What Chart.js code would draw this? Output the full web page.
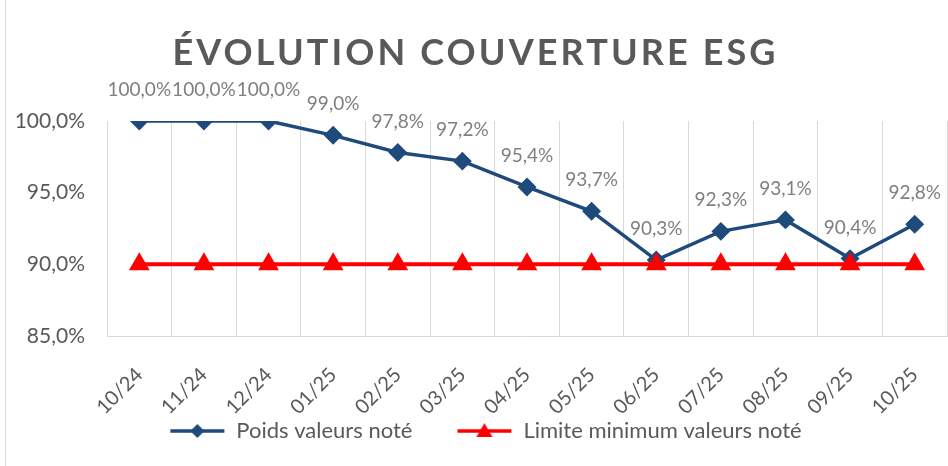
<!DOCTYPE html>
<html>
<head>
<meta charset="utf-8">
<script src="https://cdn.jsdelivr.net/npm/chart.js@4/dist/chart.umd.min.js"></script>
<style>
  html, body { margin: 0; padding: 0; background: #fff; }
  #wrap { position: relative; width: 948px; height: 466px; overflow: hidden; }
  #edge { position: absolute; left: 5px; top: 0; bottom: 0; border-left: 1px solid #d9d9d9; }
</style>
</head>
<body>
<div id="wrap">
  <canvas id="chart" width="959" height="466"></canvas>
  <div id="edge"></div>
</div>
<script>
// Data
const months = ['10/24', '11/24', '12/24', '01/25', '02/25', '03/25', '04/25', '05/25', '06/25', '07/25', '08/25', '09/25', '10/25'];
const poidsNote = [100.0, 100.0, 100.0, 99.0, 97.8, 97.2, 95.4, 93.7, 90.3, 92.3, 93.1, 90.4, 92.8];
const limiteMin = [90, 90, 90, 90, 90, 90, 90, 90, 90, 90, 90, 90, 90];
const titleText = 'ÉVOLUTION COUVERTURE ESG';

const BLUE = '#1f4a7c';
const RED = '#ff0000';
const FONT = 'Lato';
const ICON_W = 90; // legend icon box, line sits in the right 56px
const PAD_LEFT = -22; // pulls the centred legend left; y axis width makes up for it

function fmtPct(v) {
  return v.toFixed(1).replace('.', ',') + '%';
}

// legend marker: line with the point style on top
function legendIcon(color, style) {
  const c = document.createElement('canvas');
  c.width = ICON_W; c.height = 20;
  const ctx = c.getContext('2d');
  const x0 = ICON_W - 56, mid = ICON_W - 28;
  ctx.strokeStyle = color;
  ctx.lineWidth = 3.5;
  ctx.beginPath(); ctx.moveTo(x0 + 1, 10); ctx.lineTo(ICON_W - 1, 10); ctx.stroke();
  ctx.fillStyle = color;
  ctx.beginPath();
  if (style === 'diamond') {
    ctx.moveTo(mid, 3); ctx.lineTo(mid + 7, 10); ctx.lineTo(mid, 17); ctx.lineTo(mid - 7, 10);
  } else {
    ctx.moveTo(mid, 2); ctx.lineTo(mid + 8, 16); ctx.lineTo(mid - 8, 16);
  }
  ctx.closePath(); ctx.fill();
  return c;
}

// title with letter spacing, fitted to the reference width
const titlePlugin = {
  id: 'spacedTitle',
  afterDraw(chart) {
    const ctx = chart.ctx;
    ctx.save();
    ctx.font = 'bold 36px ' + FONT;
    ctx.fillStyle = '#595959';
    ctx.textBaseline = 'alphabetic';
    ctx.textAlign = 'left';
    const w = ctx.measureText(titleText).width;
    const spacing = Math.max(0, (603 - w) / (titleText.length - 1));
    ctx.letterSpacing = spacing + 'px';
    const total = ctx.measureText(titleText).width - spacing;
    ctx.fillText(titleText, 474 - total / 2, 65);
    ctx.restore();
  }
};

// value labels above the blue series
const labelPlugin = {
  id: 'valueLabels',
  afterDatasetsDraw(chart) {
    const ctx = chart.ctx;
    const meta = chart.getDatasetMeta(0);
    ctx.save();
    ctx.font = '19px ' + FONT;
    ctx.fillStyle = '#7f7f7f';
    ctx.textAlign = 'center';
    ctx.textBaseline = 'middle';
    meta.data.forEach((pt, i) => {
      ctx.fillText(fmtPct(poidsNote[i]), pt.x, pt.y - 31);
    });
    ctx.restore();
  }
};

// the x axis box is kept short; let its rotated labels run below it
const labelRoom = {
  id: 'labelRoom',
  afterLayout(chart) {
    chart.scales.x.bottom = chart.height;
  }
};

new Chart(document.getElementById('chart'), {
  type: 'line',
  data: {
    labels: months,
    datasets: [
      {
        label: 'Poids valeurs noté',
        data: poidsNote,
        borderColor: BLUE,
        backgroundColor: BLUE,
        borderWidth: 3.5,
        pointStyle: 'rectRot',
        pointRadius: 7,
        pointHoverRadius: 7,
        tension: 0,
        order: 2
      },
      {
        label: 'Limite minimum valeurs noté',
        data: limiteMin,
        borderColor: RED,
        backgroundColor: RED,
        borderWidth: 4,
        pointStyle: 'triangle',
        pointRadius: 8,
        pointHoverRadius: 8,
        tension: 0,
        order: 1
      }
    ]
  },
  options: {
    responsive: false,
    animation: false,
    layout: { padding: { top: 121, left: PAD_LEFT, right: 0, bottom: 14 } },
    plugins: {
      title: { display: false },
      tooltip: { enabled: false },
      legend: {
        position: 'bottom',
        labels: {
          usePointStyle: true,
          pointStyleWidth: ICON_W,
          boxHeight: 20,
          padding: 10,
          color: '#595959',
          font: { family: FONT, size: 22 },
          generateLabels(chart) {
            return chart.data.datasets.map((ds, i) => ({
              text: ds.label,
              pointStyle: legendIcon(ds.borderColor, i === 0 ? 'diamond' : 'triangle'),
              fillStyle: ds.borderColor,
              strokeStyle: ds.borderColor,
              lineWidth: 0,
              fontColor: '#595959',
              datasetIndex: i,
              hidden: false
            }));
          }
        }
      }
    },
    scales: {
      x: {
        offset: true,
        grid: { color: '#d9d9d9', offset: true, tickLength: 8, tickColor: 'rgba(0,0,0,0)' },
        border: { color: '#d9d9d9' },
        ticks: {
          color: '#595959',
          font: { family: FONT, size: 20 },
          minRotation: 45,
          maxRotation: 45,
          padding: 19
        },
        afterFit(scale) {
          scale.height = 74;
          scale.paddingLeft = 0;
          scale.paddingRight = 0;
        }
      },
      y: {
        min: 85,
        max: 100,
        grid: { display: false, drawTicks: false },
        border: { display: false },
        ticks: {
          stepSize: 5,
          color: '#595959',
          font: { family: FONT, size: 21 },
          padding: 22,
          callback: v => fmtPct(v)
        },
        afterFit(scale) {
          scale.width = 107 - PAD_LEFT;
          scale.paddingTop = 0;
          scale.paddingBottom = 0;
        }
      }
    }
  },
  plugins: [titlePlugin, labelPlugin, labelRoom]
});
</script>
</body>
</html>
